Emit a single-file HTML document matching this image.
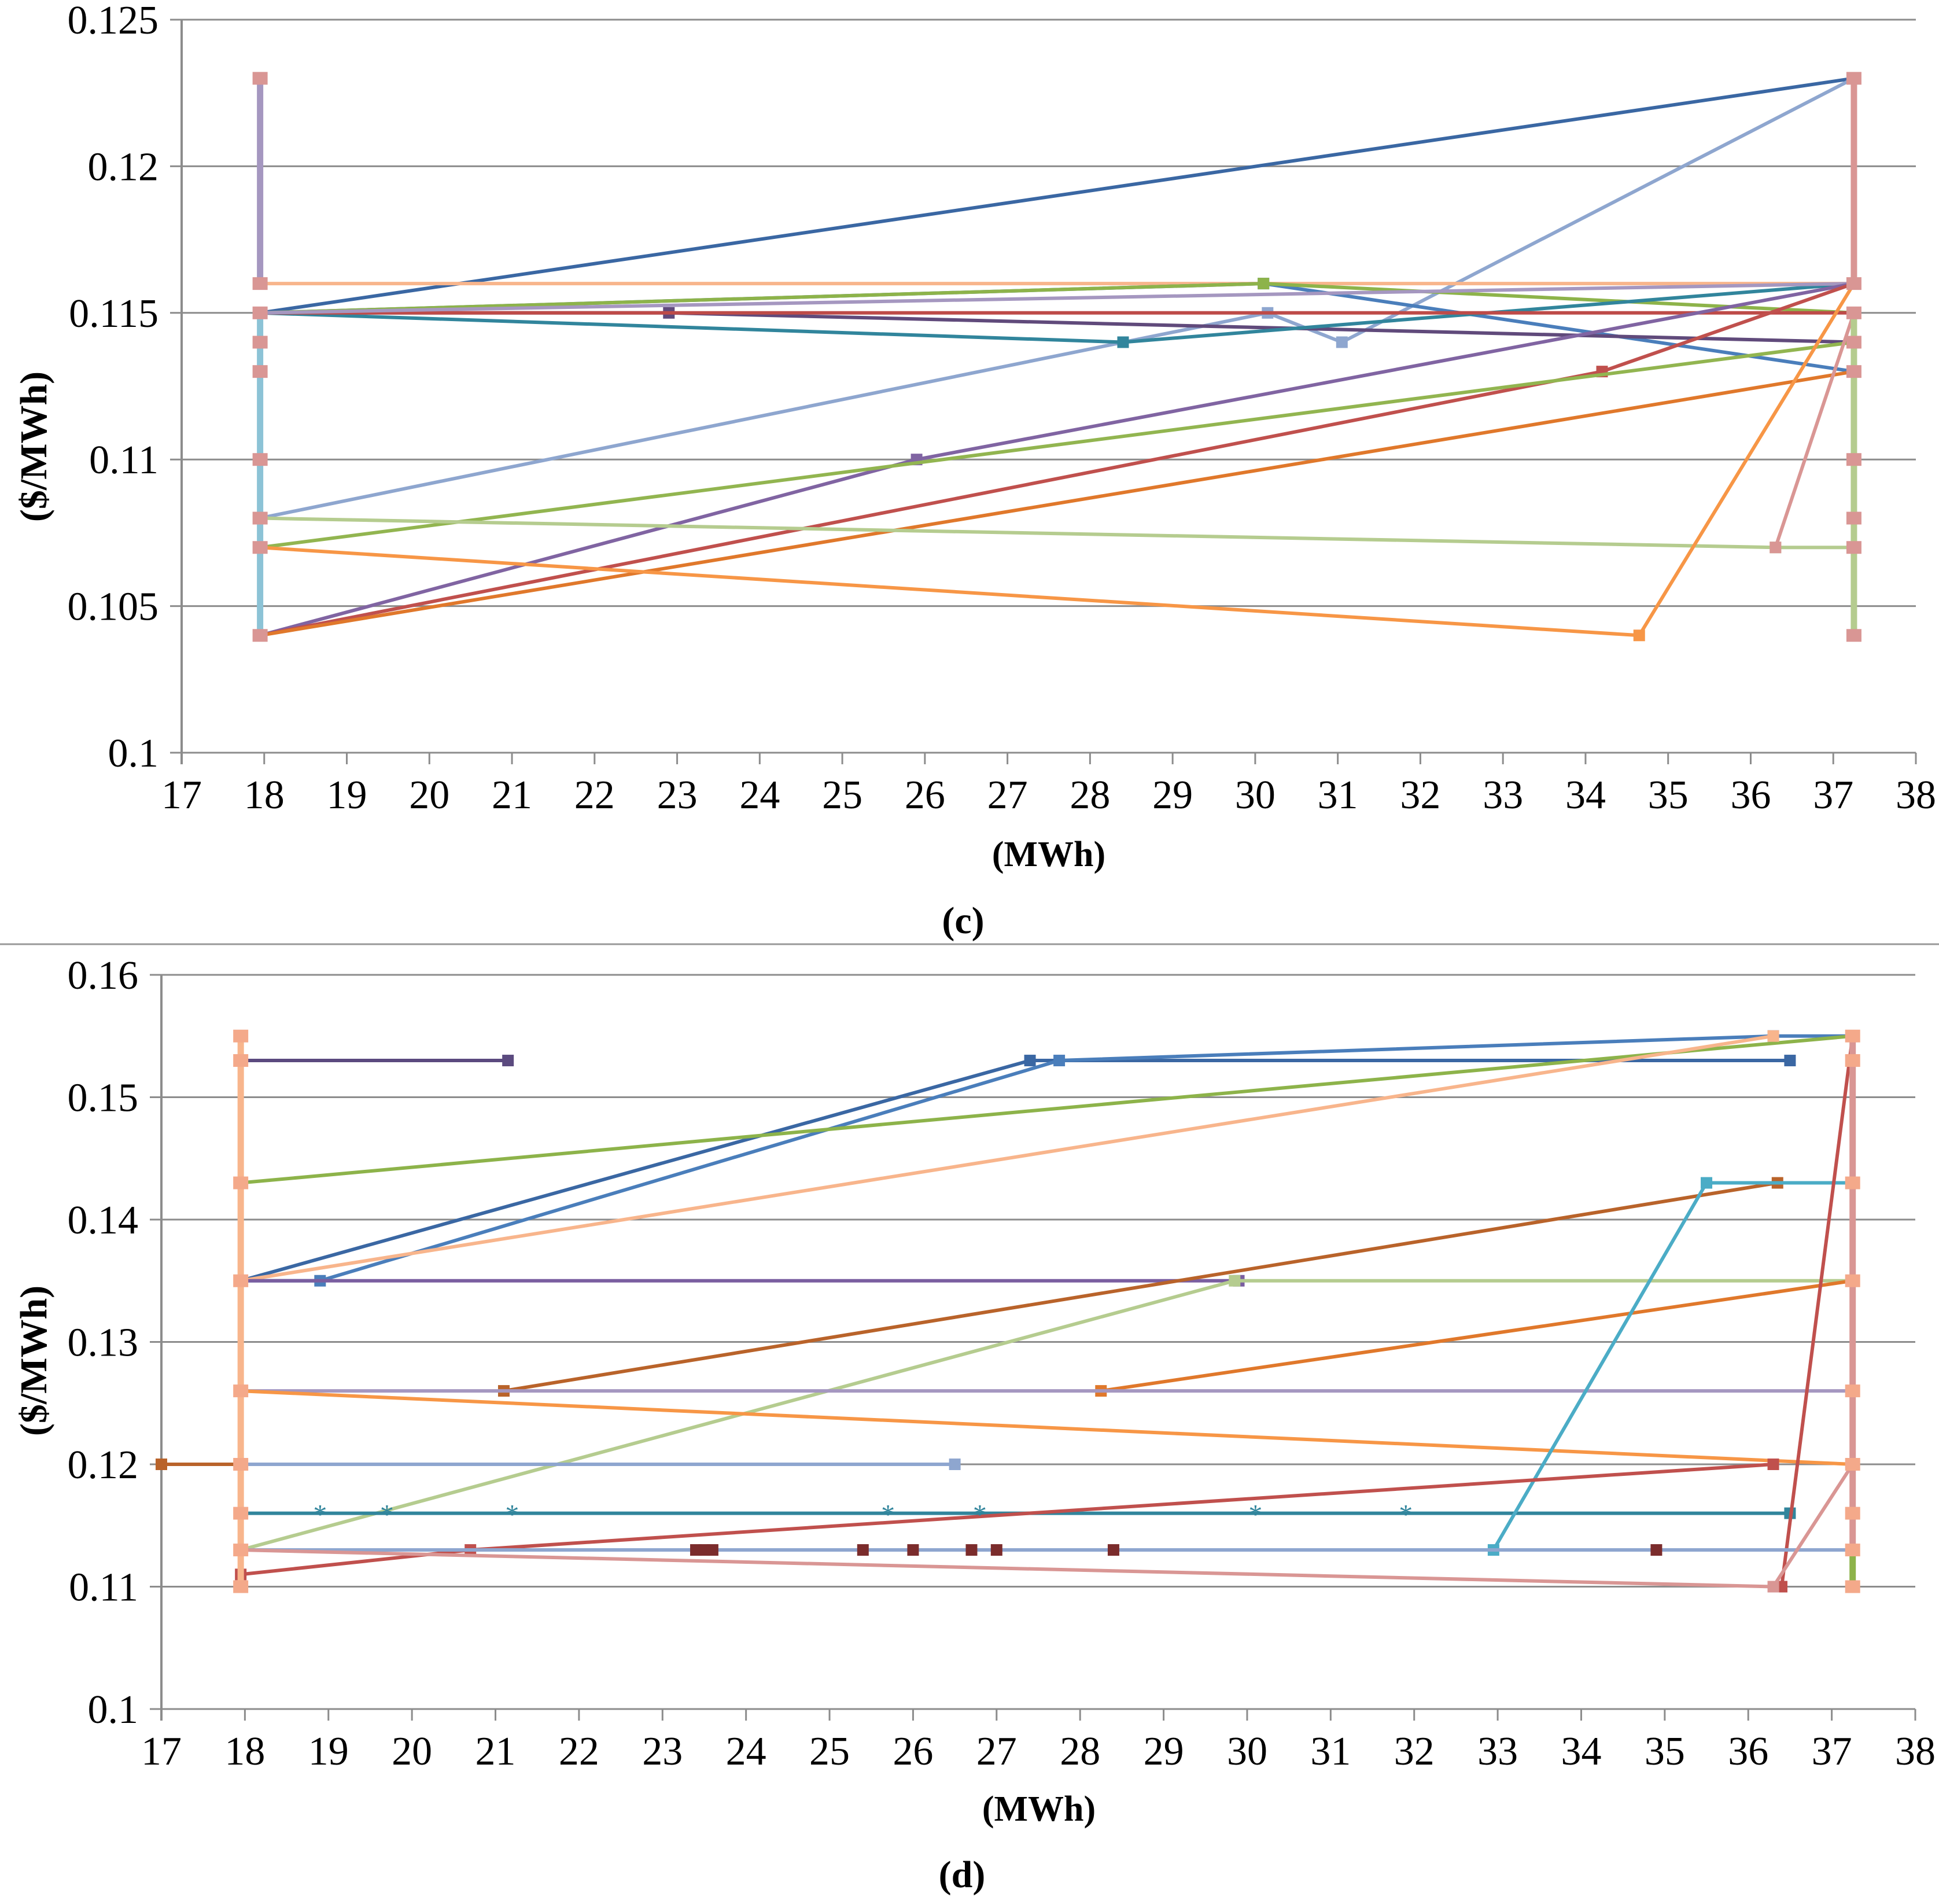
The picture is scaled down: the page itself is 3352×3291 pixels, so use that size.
<!DOCTYPE html>
<html><head><meta charset="utf-8">
<style>
html,body{margin:0;padding:0;background:#fff;}
svg{display:block;}
text{font-family:"Liberation Serif",serif;}
</style></head>
<body>
<svg id="chart" width="3352" height="3291" viewBox="0 0 3352 3291" xmlns="http://www.w3.org/2000/svg">
<line x1="0" y1="1632" x2="3352" y2="1632" stroke="#999" stroke-width="3"/>
<text x="1813" y="1497" font-size="62" font-weight="bold" text-anchor="middle">(MWh)</text>
<text x="1665" y="1613" font-size="66" font-weight="bold" text-anchor="middle">(c)</text>
<text transform="translate(80,772) rotate(-90)" font-size="66" font-weight="bold" text-anchor="middle">($/MWh)</text>
<text x="1796" y="3147" font-size="62" font-weight="bold" text-anchor="middle">(MWh)</text>
<text x="1663" y="3262" font-size="66" font-weight="bold" text-anchor="middle">(d)</text>
<text transform="translate(80,2352) rotate(-90)" font-size="66" font-weight="bold" text-anchor="middle">($/MWh)</text>
<g id="pc"></g>
<g id="pd"></g>
</svg>
<script>
// ---------- Panel (c) data ----------
const cXTicks = [17,18,19,20,21,22,23,24,25,26,27,28,29,30,31,32,33,34,35,36,37,38];
const cYTicks = [0.1,0.105,0.11,0.115,0.12,0.125];
const cYLabels = ["0.1","0.105","0.11","0.115","0.12","0.125"];
const cColors = ["#3a67a3","#8ea6cf","#f8b58c","#4a7ebb","#8db34a","#604a7b","#31859c","#be4b48","#a597c0","#8064a2","#c0504d","#e0782b","#92b550","#b5cc8f","#f79646","#d99694","#a597c0","#8cc3d6","#d99694","#b5cc8f"];
const cXs = [
 [17.95,37.25],[17.95,30.15,31.05,37.25],[17.95,37.25],[17.95,30.1,37.25],[17.95,30.1,37.25],
 [17.95,22.9,37.25],[17.95,28.4,37.25],[17.95,37.25],[17.95,37.25],[17.95,25.9,37.25],
 [17.95,34.2,37.25],[17.95,37.25],[17.95,37.25],[17.95,36.3,37.25],[17.95,34.65,37.25],
 [36.3,37.25],[17.95,17.95],[17.95,17.95],[37.25,37.25],[37.25,37.25]];
const cYs = [
 [0.115,0.123],[0.108,0.115,0.114,0.123],[0.116,0.116],[0.115,0.116,0.113],[0.115,0.116,0.115],
 [0.115,0.115,0.114],[0.115,0.114,0.116],[0.115,0.115],[0.115,0.116],[0.104,0.110,0.116],
 [0.104,0.113,0.116],[0.104,0.113],[0.107,0.114],[0.108,0.107,0.107],[0.107,0.104,0.116],
 [0.107,0.115],[0.123,0.116],[0.115,0.104],[0.123,0.116],[0.115,0.104]];
const cMarkerYs = [0.123,0.116,0.115,0.114,0.113,0.11,0.108,0.107,0.104];

// ---------- Panel (d) data ----------
const dXTicks = cXTicks;
const dYTicks = [0.1,0.11,0.12,0.13,0.14,0.15,0.16];
const dYLabels = ["0.1","0.11","0.12","0.13","0.14","0.15","0.16"];
const dColors = ["#5b4a7f","#3a67a3","#4a7ebb","#8db34a","#f8b58c","#7a5ea0","#b9632a","#b5cc8f","#e0782b","#a597c0","#f79646","#8ea6cf","#31859c","#4bacc6","#c0504d","#c0504d","#8ea6cf","#d99694","#b9632a","#f8b58c","#d99694","#8db34a"];
const dXs = [
 [17.95,21.15],[17.95,27.4,36.5],[17.95,18.9,27.75,36.3,37.25],[17.95,37.25],[17.95,36.3],
 [17.95,29.9],[21.1,36.35],[17.95,29.85,37.25],[28.25,37.25],[17.95,37.25],
 [17.95,37.25],[17.95,26.5],[17.95,36.5],[32.95,35.5,37.25],[17.95,20.7,36.3],
 [36.4,37.25],[17.95,37.25],[17.95,36.3,37.25],[17,17.95],[17.95,17.95],[37.25,37.25],[37.25,37.25]];
const dYs = [
 [0.153,0.153],[0.135,0.153,0.153],[0.135,0.135,0.153,0.155,0.155],[0.143,0.155],[0.135,0.155],
 [0.135,0.135],[0.126,0.143],[0.113,0.135,0.135],[0.126,0.135],[0.126,0.126],
 [0.126,0.120],[0.120,0.120],[0.116,0.116],[0.113,0.143,0.143],[0.111,0.113,0.120],
 [0.110,0.155],[0.113,0.113],[0.113,0.110,0.120],[0.120,0.120],[0.155,0.110],[0.155,0.113],[0.113,0.110]];
const dMarkerYs = [0.155,0.153,0.143,0.135,0.126,0.12,0.116,0.113,0.11];
const dSquareXs = [23.4,23.5,23.6,25.4,26,26.7,27,28.4,34.9];
const dStarXs = [18.9,19.7,21.2,25.7,26.8,30.1,31.9];

const NS="http://www.w3.org/2000/svg";
function mk(parent,tag,attrs){const e=document.createElementNS(NS,tag);for(const k in attrs)e.setAttribute(k,attrs[k]);parent.appendChild(e);return e;}

function drawPanel(g,cfg){
  const sx=v=>cfg.x0+(v-17)/(38-17)*(cfg.x1-cfg.x0);
  const sy=v=>cfg.y0-(v-cfg.ymin)/(cfg.ymax-cfg.ymin)*(cfg.y0-cfg.y1);
  cfg.yTicks.forEach((t,i)=>{
    const gl=mk(g,'line',{x1:cfg.x0-20,x2:cfg.x1,y1:sy(t),y2:sy(t),stroke:'#8c8c8c','stroke-width':3});
    
    
    const tx=mk(g,'text',{x:cfg.x0-40,y:sy(t)+24,'font-size':70,'text-anchor':'end'});
    tx.textContent=cfg.yLabels[i];
    
    
  });
  const ax=mk(g,'line',{x1:cfg.x0,x2:cfg.x0,y1:cfg.y1,y2:cfg.y0+20,stroke:'#8c8c8c','stroke-width':4});
  
  
  cfg.xTicks.forEach(t=>{
    const tk=mk(g,'line',{x1:sx(t),x2:sx(t),y1:cfg.y0,y2:cfg.y0+20,stroke:'#8c8c8c','stroke-width':3});
    
    
    const tx=mk(g,'text',{x:sx(t),y:cfg.y0+96,'font-size':70,'text-anchor':'middle'});
    tx.textContent=String(t);
    
    
  });
  cfg.xs.forEach((xs,i)=>{
    const pts=xs.map((x,j)=>sx(x)+','+sy(cfg.ys[i][j])).join(' ');
    const vertical = xs.length===2 && xs[0]===xs[1];
    const pl=mk(g,'polyline',{points:pts,fill:'none',stroke:cfg.colors[i],'stroke-width':vertical?11:6,'stroke-linejoin':'round'});
    
    
    xs.forEach((x,j)=>{
      const m=mk(g,'rect',{x:sx(x)-10,y:sy(cfg.ys[i][j])-10,width:20,height:20,fill:cfg.colors[i]});
      
      
    });
  });
  cfg.markerYs.forEach(v=>{
    [17.95,37.25].forEach(x=>{
      const m=mk(g,'rect',{x:sx(x)-13,y:sy(v)-11,width:26,height:22,fill:cfg.markerColor});
      
      
    });
  });
  return {sx,sy};
}

const c=drawPanel(document.getElementById('pc'),{x0:314,x1:3312,y0:1301,y1:34,ymin:0.1,ymax:0.125,
  xTicks:cXTicks,yTicks:cYTicks,yLabels:cYLabels,xs:cXs,ys:cYs,colors:cColors,markerYs:cMarkerYs,markerColor:'#d99694'});
const d=drawPanel(document.getElementById('pd'),{x0:279,x1:3311,y0:2954,y1:1685,ymin:0.1,ymax:0.16,
  xTicks:dXTicks,yTicks:dYTicks,yLabels:dYLabels,xs:dXs,ys:dYs,colors:dColors,markerYs:dMarkerYs,markerColor:'#f4a98a'});
const pdg=document.getElementById('pd');
dSquareXs.forEach(x=>{
  const m=mk(pdg,'rect',{x:d.sx(x)-10,y:d.sy(0.113)-10,width:20,height:20,fill:'#7b2c2c'});
  
  
});
dStarXs.forEach(x=>{
  const t=mk(pdg,'text',{x:d.sx(x),y:d.sy(0.116)+18,'font-size':48,'text-anchor':'middle',style:'fill:#31859c'});
  t.textContent='*';
  
  
});
</script>
</body></html>
